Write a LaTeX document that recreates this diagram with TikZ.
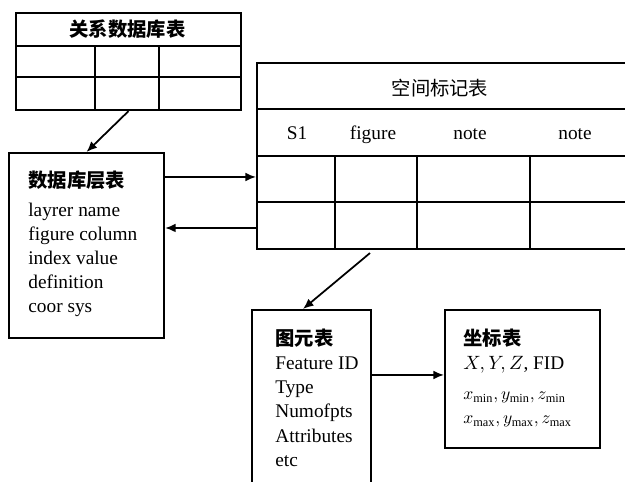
\documentclass[tikz,border=0pt]{standalone}
\usepackage{fontspec}
\usepackage{amsmath,amssymb}
\setmainfont{Liberation Serif}
\newfontfamily\cjk{Noto Sans CJK SC}
\usetikzlibrary{arrows.meta}

\tikzset{
  box/.style={draw, line width=1.2pt, inner sep=0pt, anchor=north west},
  txt/.style={inner sep=0pt, anchor=west, text height=8pt, text depth=2.5pt,
    font=\fontsize{11}{14}\selectfont},
  hanzi/.style={inner sep=0pt, font=\fontsize{11}{14}\selectfont\cjk\bfseries},
  link/.style={line width=1pt, -{Latex[length=6pt,width=5pt]}}
}

\begin{document}
\begin{tikzpicture}[x=0.02cm,y=-0.02cm]
   \clip (0,0) rectangle (625,482);
   % relation table
   \node[box, minimum width=4.5cm, minimum height=1.94cm] (reltab) at (15,12) {};
   \draw [line width=1.2pt] (15,46) -- (240,46);
   \draw [line width=1.2pt] (15,77) -- (240,77);
   \draw [line width=1.2pt] (95,46) -- (95,109);
   \draw [line width=1.2pt] (159,46) -- (159,109);
   \node[hanzi] (reltitle) at (127.5,29) {关系数据库表};
   % spatial table
   \node[box, minimum width=7.8cm, minimum height=3.72cm] (spatial) at (256,62) {};
   \draw [line width=1.2pt] (256,109) -- (650,109);
   \draw [line width=1.2pt] (256,156) -- (650,156);
   \draw [line width=0.8pt] (256,202) -- (650,202);
   \draw [line width=1.2pt] (335,156) -- (335,248);
   \draw [line width=1.2pt] (417,156) -- (417,248);
   \draw [line width=1.2pt] (530,156) -- (530,248);
   \node[hanzi, font=\fontsize{11}{14}\selectfont\cjk] (sptitle) at (440,88) {空间标记表};
   \node[txt, anchor=center] (hs1) at (297,135) {S1};
   \node[txt, anchor=center] (hfig) at (373,135) {figure};
   \node[txt, anchor=center] (hnote) at (470,135) {note};
   \node[txt, anchor=center] (hnoteb) at (575,135) {note};
   % layer table
   \node[box, minimum width=3.1cm, minimum height=3.7cm] (layer) at (8,152) {};
   \node[hanzi, anchor=west] (laytitle) at (28,180) {数据库层表};
   \foreach \t [count=\i] in {layrer name, figure column, index value, definition, coor sys}
     \node[txt] (lay\i) at (28,188+24*\i) {\t};
   % figure elements
   \node[box, minimum width=2.38cm, minimum height=4cm] (figbox) at (251,309) {};
   \node[hanzi, anchor=west] (figtitle) at (275,338) {图元表};
   \foreach \t [count=\i] in {Feature ID, Type, Numofpts, Attributes, etc}
     \node[txt] (fig\i) at (275,340+24.3*\i) {\t};
   % coordinates
   \node[box, minimum width=3.1cm, minimum height=2.76cm] (coorbox) at (444,309) {};
   \node[hanzi, anchor=west] (coortitle) at (463,338) {坐标表};
   \node[txt] (coor1) at (463,365) {$X,Y,Z$, FID};
   \node[txt, font=\fontsize{10}{12}\selectfont] (coor2) at (463,395) {$x_{\mathrm{min}},y_{\mathrm{min}},z_{\mathrm{min}}$};
   \node[txt, font=\fontsize{10}{12}\selectfont] (coor3) at (463,419) {$x_{\mathrm{max}},y_{\mathrm{max}},z_{\mathrm{max}}$};
   % links
   \draw [link] (reltab.south) -- (layer.north);
   \draw [link] ([yshift=-0.5cm]layer.north east) coordinate (a1) -- (a1 -| spatial.west);
   \coordinate (a2) at ([yshift=-1.52cm]layer.north east);
   \draw [link] (a2 -| spatial.west) -- (a2);
   \draw [link] ([xshift=2.28cm,yshift=-0.06cm]spatial.south west) -- ([xshift=1.04cm]figbox.north west);
   \draw [link] ([yshift=-1.32cm]figbox.north east) coordinate (a3) -- (a3 -| coorbox.west);
\end{tikzpicture}
\end{document}
